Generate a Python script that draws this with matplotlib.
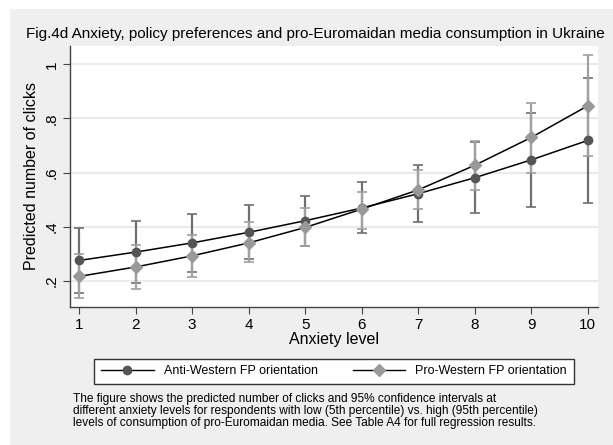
import matplotlib
matplotlib.use("Agg")
import matplotlib.pyplot as plt
from matplotlib.patches import Rectangle
from matplotlib.lines import Line2D

plt.rcParams['font.family'] = ['Liberation Sans', 'DejaVu Sans']

anxiety = [1, 2, 3, 4, 5, 6, 7, 8, 9, 10]

anti = [0.275, 0.306, 0.340, 0.379, 0.422, 0.469, 0.522, 0.581, 0.647, 0.719]
anti_lo = [0.155, 0.191, 0.232, 0.279, 0.330, 0.376, 0.417, 0.449, 0.472, 0.486]
anti_hi = [0.395, 0.421, 0.448, 0.479, 0.514, 0.564, 0.628, 0.713, 0.821, 0.950]

pro = [0.216, 0.251, 0.292, 0.340, 0.397, 0.465, 0.536, 0.627, 0.730, 0.847]
pro_lo = [0.137, 0.170, 0.215, 0.268, 0.328, 0.392, 0.466, 0.535, 0.600, 0.662]
pro_hi = [0.298, 0.333, 0.371, 0.416, 0.468, 0.529, 0.610, 0.715, 0.857, 1.033]

yticks = [0.2, 0.4, 0.6, 0.8, 1.0]
ytick_labels = ['.2', '.4', '.6', '.8', '1']

title = "Fig.4d Anxiety, policy preferences and pro-Euromaidan media consumption in Ukraine"
caption = ("The figure shows the predicted number of clicks and 95% confidence intervals at\n"
           "different anxiety levels for respondents with low (5th percentile) vs. high (95th percentile)\n"
           "levels of consumption of pro-Euromaidan media. See Table A4 for full regression results.")

W, H = 613, 445
fig = plt.figure(figsize=(W / 100, H / 100), dpi=100)
fig.patch.set_facecolor('white')

# stata-like gray background
fig.patches.append(Rectangle((10 / W, 0), 1 - 10 / W, 1 - 9 / H, transform=fig.transFigure,
                             facecolor='#efefef', edgecolor='none', zorder=-5))

ax = fig.add_axes([70 / W, 1 - 307 / H, (598 - 70) / W, (307 - 46) / H])
ax.set_zorder(2)
ax.set_facecolor('white')

anti_err = [[a - l for a, l in zip(anti, anti_lo)], [h - a for a, h in zip(anti, anti_hi)]]
pro_err = [[p - l for p, l in zip(pro, pro_lo)], [h - p for p, h in zip(pro, pro_hi)]]

ax.errorbar(anxiety, anti, yerr=anti_err, fmt='none', ecolor='#707070', elinewidth=1.6,
            capsize=3.5, capthick=1.2, zorder=2)
ax.errorbar(anxiety, pro, yerr=pro_err, fmt='none', ecolor='#a0a0a0', elinewidth=1.6,
            capsize=3.5, capthick=1.2, zorder=2)
ax.plot(anxiety, anti, color='black', lw=1.1, zorder=3)
ax.plot(anxiety, pro, color='black', lw=1.1, zorder=3)
ax.plot(anxiety, anti, 'o', color='#555555', ms=6, mec='#555555', zorder=4)
ax.plot(anxiety, pro, 'D', color='#999999', ms=6.5, mec='#999999', zorder=4)

ax.set_xlim(0.84, 10.18)
ax.set_ylim(0.103, 1.068)
ax.set_xticks(anxiety)
ax.set_yticks(yticks)
ax.set_yticklabels(ytick_labels, rotation=90, va='center')
ax.tick_params(labelsize=11, length=5, width=0.8, color='#444444', pad=3)
ax.grid(axis='y', color='#eaeaea', lw=1.5)
ax.set_axisbelow(True)
for s in ['top', 'right']:
    ax.spines[s].set_visible(False)
for s in ['left', 'bottom']:
    ax.spines[s].set_color('#444444')
    ax.spines[s].set_linewidth(1.0)

ax.set_xlabel('Anxiety level', fontsize=11.5, labelpad=0)
ax.set_ylabel('Predicted number of clicks', fontsize=11.5, labelpad=4)

fig.text(26 / W, 1 - 34 / H, title, fontsize=11, va='center', ha='left')

handles = [Line2D([], [], color='black', lw=1, marker='o', mfc='#555555', mec='#555555', ms=6),
           Line2D([], [], color='black', lw=1, marker='D', mfc='#999999', mec='#999999', ms=6.5)]
leg = fig.legend(handles, ['Anti-Western FP orientation', 'Pro-Western FP orientation'],
                 loc='center', bbox_to_anchor=(334 / W, 1 - 371.5 / H), ncol=2, fontsize=9,
                 frameon=True, fancybox=False, handlelength=4.2, columnspacing=2.8,
                 borderpad=0.55, handletextpad=0.8, framealpha=1)
leg.get_frame().set_edgecolor('#333333')
leg.get_frame().set_linewidth(1.0)

fig.text(73 / W, 1 - 411 / H, caption, fontsize=8.6, va='center', ha='left', linespacing=1.05)

fig.savefig('out.png', dpi=100, facecolor=fig.get_facecolor())
